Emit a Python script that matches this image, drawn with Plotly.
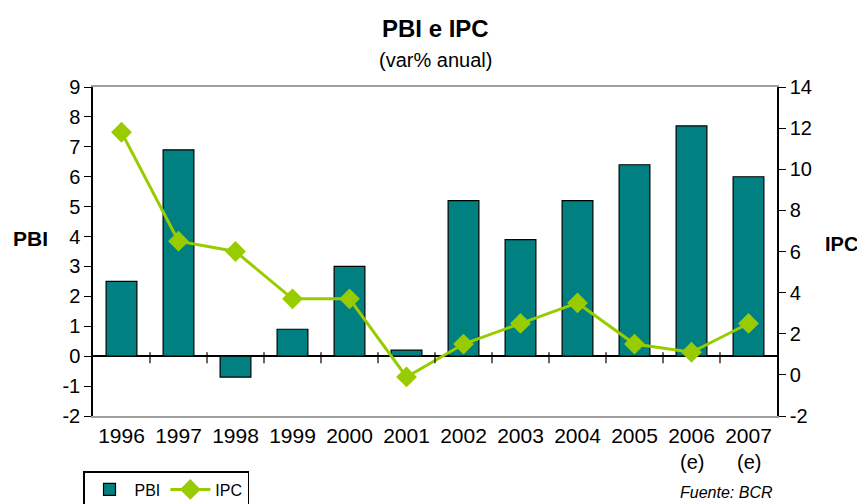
import plotly.graph_objects as go

years = ["1996", "1997", "1998", "1999", "2000", "2001", "2002", "2003", "2004", "2005", "2006", "2007"]
pbi = [2.5, 6.9, -0.7, 0.9, 3.0, 0.2, 5.2, 3.9, 5.2, 6.4, 7.7, 6.0]
ipc = [11.8, 6.5, 6.0, 3.7, 3.7, -0.1, 1.5, 2.5, 3.5, 1.5, 1.1, 2.5]
estimated = ["2006", "2007"]
pbi_ticks = [-2, -1, 0, 1, 2, 3, 4, 5, 6, 7, 8, 9]
ipc_ticks = [-2, 0, 2, 4, 6, 8, 10, 12, 14]

FONT = "Liberation Sans, Arial, sans-serif"
TEAL = "#008080"
GREEN = "#99CC00"

xpos = list(range(len(years)))

fig = go.Figure()
fig.add_trace(go.Bar(
    x=xpos, y=pbi, name="PBI",
    marker=dict(color=TEAL, line=dict(color="black", width=1.2)),
    yaxis="y",
))
fig.add_trace(go.Scatter(
    x=xpos, y=ipc, name="IPC", mode="lines+markers",
    line=dict(color=GREEN, width=3),
    marker=dict(symbol="diamond", size=16, color=GREEN),
    yaxis="y2",
))

# tick marks on the zero line between categories
shapes = []
for i in range(len(years) - 1):
    shapes.append(dict(
        type="line", xref="x", yref="y",
        x0=i + 0.5, x1=i + 0.5,
        ysizemode="pixel", yanchor=0, y0=-7, y1=4,
        line=dict(color="black", width=1.2),
    ))

annotations = [
    dict(text="<b>PBI e IPC</b>", x=0.5, y=1.179, xref="paper", yref="paper",
         showarrow=False, font=dict(size=24, family=FONT, color="black"),
         xanchor="center", yanchor="middle"),
    dict(text="(var% anual)", x=0.5, y=1.082, xref="paper", yref="paper",
         showarrow=False, font=dict(size=20, family=FONT, color="black"),
         xanchor="center", yanchor="middle"),
    dict(text="<b>PBI</b>", x=-0.092, y=0.541, xref="paper", yref="paper",
         showarrow=False, font=dict(size=21, family=FONT, color="black"),
         xanchor="center", yanchor="middle"),
    dict(text="<b>IPC</b>", x=1.094, y=0.523, xref="paper", yref="paper",
         showarrow=False, font=dict(size=20, family=FONT, color="black"),
         xanchor="center", yanchor="middle"),
    dict(text="<i>Fuente: BCR</i>", x=0.997, y=-0.234, xref="paper", yref="paper",
         showarrow=False, font=dict(size=16, family=FONT, color="black"),
         xanchor="right", yanchor="middle"),
]
for yr in estimated:
    annotations.append(dict(text="(e)", x=years.index(yr), y=-0.14, xref="x", yref="paper",
                            showarrow=False, font=dict(size=20, family=FONT, color="black"),
                            xanchor="center", yanchor="middle"))

fig.update_layout(
    width=865, height=504,
    margin=dict(l=85, r=96, t=79, b=96),
    paper_bgcolor="white", plot_bgcolor="white",
    font=dict(family=FONT, color="black", size=20),
    bargap=0.46,
    showlegend=True,
    legend=dict(
        orientation="h", x=75 / 865, y=(504 - 463) / 504, xref="container", yref="container",
        xanchor="left", yanchor="top",
        bordercolor="black", borderwidth=1.5, bgcolor="white",
        font=dict(size=16, family=FONT), itemwidth=40,
        tracegroupgap=0,
    ),
    xaxis=dict(
        range=[-0.5, len(years) - 0.5],
        tickmode="array", tickvals=xpos, ticktext=years,
        showgrid=False, showline=True, linecolor="#a0a0a0",
        linewidth=1.5, mirror=True, ticks="", tickfont=dict(size=21),
        zeroline=False,
    ),
    yaxis=dict(
        range=[-2, 9], tickmode="array", tickvals=pbi_ticks,
        ticktext=[str(v) for v in pbi_ticks],
        showgrid=False, showline=True, linecolor="black",
        linewidth=1.5, ticks="outside", ticklen=7, tickcolor="black",
        zeroline=True, zerolinecolor="black", zerolinewidth=1.5,
        tickfont=dict(size=20),
    ),
    yaxis2=dict(
        range=[-2, 14], tickmode="array", tickvals=ipc_ticks,
        ticktext=[str(v) for v in ipc_ticks],
        overlaying="y", side="right", showgrid=False,
        showline=True, linecolor="black", linewidth=1.5, ticks="outside",
        ticklen=7, tickcolor="black", zeroline=False, tickfont=dict(size=20),
    ),
    shapes=shapes,
    annotations=annotations,
)

fig.write_html("out.html")
